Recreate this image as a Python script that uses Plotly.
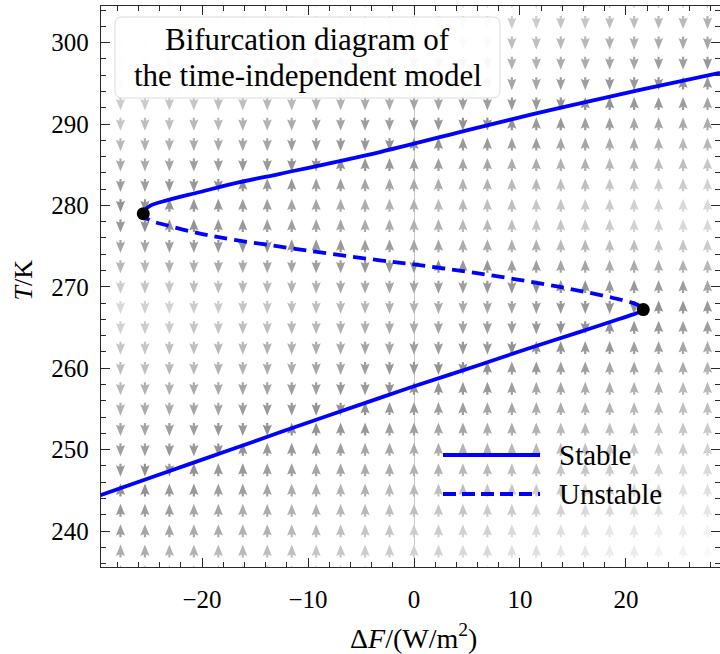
import numpy as np
import plotly.graph_objects as go

# ---------------- data ----------------
# stable upper branch (Delta F in W/m^2, T in K)
upper_dF = [-25.54, -25.40, -24.91, -23.33, -20.19, -17.05, -12.64, -3.21, 6.23, 13.77, 21.32, 28.87]
upper_T = [278.99, 279.40, 279.95, 280.63, 281.65, 282.68, 283.88, 286.56, 289.63, 291.99, 294.20, 296.29]
# unstable middle branch (fold 1 -> fold 2)
unstable_dF = [-25.54, -25.39, -24.91, -23.33, -20.19, -17.05, -12.64, -3.21, 0.0, 6.23, 13.77, 18.80, 20.69, 21.35, 21.63]
unstable_T = [278.99, 278.59, 278.17, 277.56, 276.54, 275.80, 274.94, 273.25, 272.76, 271.62, 269.98, 268.63, 268.00, 267.60, 267.20]
# stable lower branch (fold 2 -> left edge)
lower_dF = [21.63, 21.32, 20.69, 19.43, 15.66, 10.0, 6.23, 0.0, -3.21, -12.64, -17.05, -23.33, -29.62]
lower_T = [267.20, 266.93, 266.62, 266.07, 264.47, 262.08, 260.42, 257.78, 256.36, 252.13, 250.10, 247.25, 244.39]
# fold (bifurcation) points
fold_dF = [-25.54, 21.63]
fold_T = [278.99, 267.20]

# vector-field sample grid
grid_dF = np.linspace(-30, 30, 27)
grid_T = np.arange(235.0, 305.01, 2.5)

x_tickvals = [-20, -10, 0, 10, 20]
y_tickvals = [240, 250, 260, 270, 280, 290, 300]

# ---------------- layout geometry ----------------
W, H = 720, 654
ML, MR, MT, MB = 101, 0, 6, 87
x_range = [-29.53, 28.87]
y_range = [235.58, 304.5]
pw = W - ML - MR
ph = H - MT - MB
ppx = pw / (x_range[1] - x_range[0])
ppy = ph / (y_range[1] - y_range[0])


def px2p(px, py):
    return (px - ML) / pw, (H - MB - py) / ph


FONT = "Liberation Serif"

# ---------------- equilibrium curve as function of T (for the arrow field) ----------------
eq_T = np.array(lower_T[::-1] + unstable_T[::-1][1:] + upper_T[1:])
eq_dF = np.array(lower_dF[::-1] + unstable_dF[::-1][1:] + upper_dF[1:])


def dF_eq(t):
    if t < eq_T[0]:
        s = (eq_dF[1] - eq_dF[0]) / (eq_T[1] - eq_T[0])
        return eq_dF[0] + s * (t - eq_T[0])
    if t > eq_T[-1]:
        s = (eq_dF[-1] - eq_dF[-2]) / (eq_T[-1] - eq_T[-2])
        return eq_dF[-1] + s * (t - eq_T[-1])
    return float(np.interp(t, eq_T, eq_dF))


# arrow glyph in pixels (pointing up): broad head with a short stem
arrow_shape = [(0, 6.8), (4.6, -4.6), (1.1, -3.2), (1.1, -6.2), (-1.1, -6.2), (-1.1, -3.2), (-4.6, -4.6)]

buckets = {}
for t in grid_T:
    e = dF_eq(t)
    for f in grid_dF:
        d = f - e
        s = 1 if d > 0 else -1
        g = 0.57 + 0.40 * min(abs(d) / 72.0, 1.0)
        lvl = round(g * 40) / 40
        xs, ys = buckets.setdefault(lvl, ([], []))
        for a, b in arrow_shape:
            xs.append(f + a / ppx)
            ys.append(t + s * b / ppy)
        xs.append(None)
        ys.append(None)

fig = go.Figure()
for lvl in sorted(buckets):
    xs, ys = buckets[lvl]
    c = int(round(lvl * 255))
    col = f"rgb({c},{c},{c})"
    fig.add_trace(go.Scatter(x=xs, y=ys, mode="lines", fill="toself", fillcolor=col,
                             line=dict(width=0, color=col), hoverinfo="skip", showlegend=False))

# each branch starts just inside the fold marker on the neighbouring branch so the
# spline leaves the fold with a smooth (vertical) tangent; that piece is hidden by the dot
up_x = [unstable_dF[1]] + upper_dF
up_y = [unstable_T[1]] + upper_T
un_x = [upper_dF[1]] + unstable_dF + [lower_dF[1]]
un_y = [upper_T[1]] + unstable_T + [lower_T[1]]
lo_x = [unstable_dF[-2]] + lower_dF
lo_y = [unstable_T[-2]] + lower_T

BLUE = "#0000ff"
LW = 3.8
fig.add_trace(go.Scatter(x=up_x, y=up_y, mode="lines",
                         line=dict(color=BLUE, width=LW, shape="spline", smoothing=1.0), showlegend=False))
fig.add_trace(go.Scatter(x=lo_x, y=lo_y, mode="lines",
                         line=dict(color=BLUE, width=LW, shape="spline", smoothing=1.0), showlegend=False))
fig.add_trace(go.Scatter(x=un_x, y=un_y, mode="lines",
                         line=dict(color=BLUE, width=LW, shape="spline", smoothing=1.0, dash="13px,7px"),
                         showlegend=False))
fig.add_trace(go.Scatter(x=fold_dF, y=fold_T, mode="markers", marker=dict(color="black", size=13),
                         showlegend=False))

axcommon = dict(showline=True, linecolor="#2a2a2a", linewidth=1.3, mirror="allticks", ticks="inside",
                ticklen=9, tickwidth=1.1, tickcolor="#2a2a2a", showgrid=False,
                tickfont=dict(family=FONT, size=25, color="black"))

fig.update_xaxes(range=x_range, tickvals=x_tickvals, zeroline=True, zerolinecolor="#c8c8c8", zerolinewidth=1,
                 minor=dict(ticks="inside", ticklen=5, dtick=2, tick0=0, tickcolor="#2a2a2a", tickwidth=1),
                 ticklabelstandoff=10, **axcommon)
fig.update_yaxes(range=y_range, tickvals=y_tickvals, zeroline=False,
                 minor=dict(ticks="inside", ticklen=5, dtick=2, tick0=0, tickcolor="#2a2a2a", tickwidth=1),
                 ticklabelstandoff=6, **axcommon)

# title box (rounded rectangle)
bx0, by0, bx1, by1, r = 115, 17, 500, 98, 7


def P(x, y):
    a, b = px2p(x, y)
    return f"{a:.5f},{b:.5f}"


path = (f"M {P(bx0 + r, by0)} L {P(bx1 - r, by0)} Q {P(bx1, by0)} {P(bx1, by0 + r)} "
        f"L {P(bx1, by1 - r)} Q {P(bx1, by1)} {P(bx1 - r, by1)} L {P(bx0 + r, by1)} "
        f"Q {P(bx0, by1)} {P(bx0, by1 - r)} L {P(bx0, by0 + r)} Q {P(bx0, by0)} {P(bx0 + r, by0)} Z")
shapes = [dict(type="path", xref="paper", yref="paper", path=path, fillcolor="rgba(255,255,255,0.9)",
               line=dict(color="#dcdcdc", width=1), layer="above")]

annotations = []
for txt, yc in [("Bifurcation diagram of", 40), ("the time-independent model", 75)]:
    ax_, ay_ = px2p(307.5, yc)
    annotations.append(dict(text=txt, x=ax_, y=ay_, xref="paper", yref="paper", showarrow=False,
                            xanchor="center", yanchor="middle", font=dict(family=FONT, size=31, color="black")))

# legend (manual)
for lab, yc, dash in [("Stable", 455, "solid"), ("Unstable", 494, "13px,6px")]:
    x0p, y0p = px2p(443, yc)
    x1p, _ = px2p(540, yc)
    shapes.append(dict(type="line", xref="paper", yref="paper", x0=x0p, x1=x1p, y0=y0p, y1=y0p,
                       line=dict(color=BLUE, width=LW, dash=dash), layer="above"))
    tx, ty = px2p(557, yc)
    annotations.append(dict(text=lab, x=tx, y=ty, xref="paper", yref="paper", showarrow=False,
                            xanchor="left", yanchor="middle", font=dict(family=FONT, size=29, color="black")))

# axis titles
tx, ty = px2p(413.5, 636)
annotations.append(dict(text="Δ<i>F</i>/(W/m<sup>2</sup>)", x=tx, y=ty, xref="paper", yref="paper",
                        showarrow=False, xanchor="center", yanchor="middle",
                        font=dict(family=FONT, size=28, color="black")))
tx, ty = px2p(22.5, 280)
annotations.append(dict(text="<i>T</i>/K", x=tx, y=ty, xref="paper", yref="paper", textangle=-90,
                        showarrow=False, xanchor="center", yanchor="middle",
                        font=dict(family=FONT, size=26, color="black")))

fig.update_layout(width=W, height=H, margin=dict(l=ML, r=MR, t=MT, b=MB, pad=0),
                  plot_bgcolor="white", paper_bgcolor="white", showlegend=False,
                  shapes=shapes, annotations=annotations)

fig.write_html("out.html")
